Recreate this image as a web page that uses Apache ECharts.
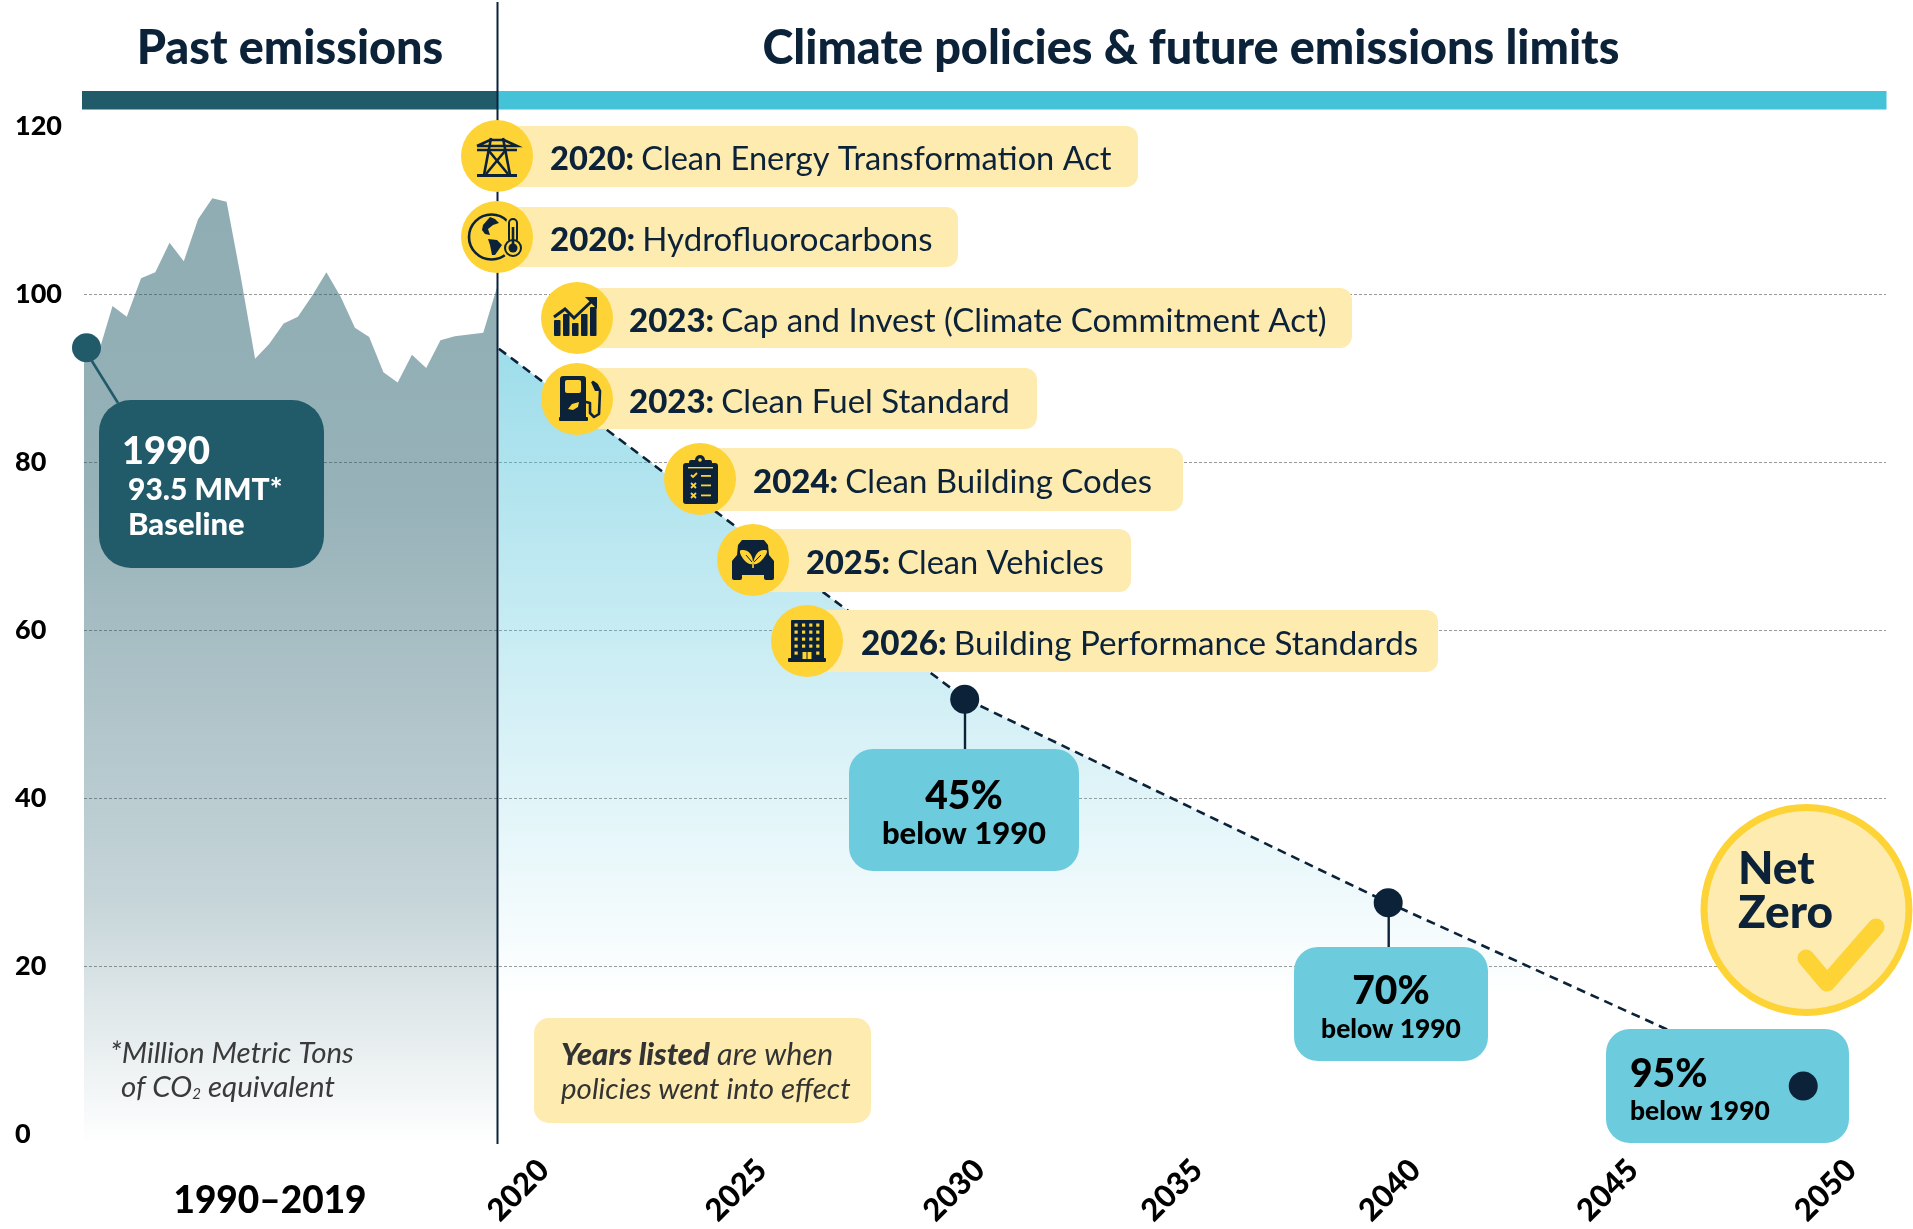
<!DOCTYPE html>
<html><head><meta charset="utf-8">
<style>html,body{margin:0;padding:0;background:#fff}#c{width:1913px;height:1229px}</style>
<script src="https://cdn.jsdelivr.net/npm/echarts@6/dist/echarts.min.js"></script>
</head><body><div id="c"></div>
<script>
// ---------- data ----------
const pastYears = ['1990','1991','1992','1993','1994','1995','1996','1997','1998','1999','2000','2001','2002','2003','2004','2005','2006','2007','2008','2009','2010','2011','2012','2013','2014','2015','2016','2017','2018','2019'];
const pastValues = [93.5,92.9,98.6,97.3,101.9,102.6,106.1,103.9,108.9,111.4,111.0,102.0,92.3,94.1,96.5,97.3,99.8,102.6,99.7,96.0,94.9,90.7,89.5,92.8,91.2,94.5,95.0,95.2,95.4,101.0];
const limitYears = [2019,2030,2040,2050];
const limitValues = [93.5,51.9,27.6,4.7];
const milestoneYears = [2030,2040,2049.8];
const milestoneValues = [51.8,27.6,5.8];
const gridYears = [2030,2040,2050];
const tickYears = [2020,2025,2030,2035,2040,2045,2050];
const policyYears = ['2020:','2020:','2023:','2023:','2024:','2025:','2026:'];
const policyNames = ['Clean Energy Transformation Act','Hydrofluorocarbons','Cap and Invest (Climate Commitment Act)','Clean Fuel Standard','Clean Building Codes','Clean Vehicles','Building Performance Standards'];

// ---------- palette ----------
const NAVY='#0b2239', TEAL='#215b69', CYAN='#44c2d8', BOX='#6ccbdc', YEL='#fdd335', CREAM='#fdebb0';
const FONT='Lato';

// ---------- graphic helpers ----------
let zc=10; const els=[];
const push=e=>{e.z=zc++;e.silent=true;els.push(e);return e;};
const rect=(x,y,w,h,r,fill)=>push({type:'rect',x,y,shape:{x:0,y:0,width:w,height:h,r:r||0},style:{fill}});
const circle=(x,y,r,fill,stroke,lw)=>push({type:'circle',x,y,shape:{cx:0,cy:0,r},style:{fill,stroke,lineWidth:lw||0}});
const line=(pts,color,lw,cap)=>push({type:'polyline',shape:{points:pts},style:{stroke:color,lineWidth:lw,fill:null,lineCap:cap||'butt',lineJoin:cap?'round':'miter'}});
const poly=(pts,fill,smooth)=>push({type:'polygon',shape:{points:pts,smooth:smooth||0},style:{fill}});
const text=(x,y,t,o)=>push({type:'text',x,y:y+1,style:Object.assign({text:t,fontFamily:FONT,fontSize:30,fontWeight:900,fill:NAVY,align:'left',verticalAlign:'middle'},o||{})});
const off=(cx,cy,pts)=>pts.map(p=>[p[0]+cx,p[1]+cy]);

// ---------- icons (offsets from circle centre) ----------
const icons=[
(x,y)=>{ // pylon
  const L=(p,w)=>line(off(x,y,p),NAVY,w||2.6);
  L([[-20,-10],[-7,-16],[7,-16],[20,-10],[-20,-10]]);
  L([[-20,-6],[20,-6]]);
  L([[-6,-18],[-13,19]]);L([[6,-18],[13,19]]);
  L([[-8,-5],[11,18]]);L([[8,-5],[-11,18]]);
  L([[-20,19.5],[20,19.5]],3);
},
(x,y)=>{ // globe + thermometer
  circle(x-5.5,y,22.5,null,NAVY,2.6);
  poly(off(x,y,[[-14,-12],[-7,-20],[-2,-18],[2,-14],[-4,-12],[-9,-8],[-7,-2],[-12,-3],[-15,-7]]),NAVY);
  poly(off(x,y,[[-9,2],[0,3],[5,8],[-2,18],[-5,18],[-7,8]]),NAVY);
  rect(x+9,y-21,15,30,7,YEL);circle(x+16,y+11,11,YEL);
  push({type:'rect',x:x+12,y:y-18,shape:{x:0,y:0,width:8,height:24,r:4},style:{fill:YEL,stroke:NAVY,lineWidth:2}});
  circle(x+16,y+11,8,YEL,NAVY,2);circle(x+16,y+11,4.5,NAVY);rect(x+14.7,y-10,2.6,20,0,NAVY);
},
(x,y)=>{ // rising bars
  [[-23,2],[-14,-4],[-5,5],[4,-4],[13,-11]].forEach(b=>rect(x+b[0],y+b[1],6.5,18-b[1],1,NAVY));
  line(off(x,y,[[-23,-1],[-12,-9],[-3,0],[15,-17]]),NAVY,3);
  poly(off(x,y,[[8,-21],[20,-21],[20,-9]]),NAVY);
},
(x,y)=>{ // fuel pump
  rect(x-17,y-23,26,44,3,NAVY);rect(x-18,y+18,29,4,1,NAVY);
  rect(x-12,y-19,16,13,2,YEL);
  poly(off(x,y,[[-9,10],[-5,5],[2,3],[1,8],[-4,11]]),YEL);
  line(off(x,y,[[9,3],[13,4],[13,14],[17,18],[22,15],[23,-8],[20,-14],[16,-17]]),NAVY,2.6,'round');
  poly(off(x,y,[[14,-17],[20,-16],[22,-8],[18,-8]]),NAVY);
},
(x,y)=>{ // clipboard
  rect(x-17,y-16,35,41,3,NAVY);
  rect(x-11,y-19,23,9,2,NAVY);circle(x,y-19,5,NAVY);circle(x,y-19,1.8,YEL);
  rect(x-12,y-12,25,1.4,0,YEL);
  line(off(x,y,[[-9,-4],[-7,-2],[-3,-6]]),YEL,1.8);rect(x+1,y-4,10,1.8,0,YEL);
  line(off(x,y,[[-9,4],[-4,9]]),YEL,1.8);line(off(x,y,[[-4,4],[-9,9]]),YEL,1.8);rect(x+1,y+5.5,10,1.8,0,YEL);
  line(off(x,y,[[-9,14],[-4,19]]),YEL,1.8);line(off(x,y,[[-4,14],[-9,19]]),YEL,1.8);rect(x+1,y+15.5,10,1.8,0,YEL);
},
(x,y)=>{ // car with leaf
  poly(off(x,y,[[-11,-20],[11,-20],[15,-15],[16,-5],[21,1],[21,15],[-21,15],[-21,1],[-16,-5],[-15,-15]]),NAVY);
  rect(x-21,y+10,10,10,2,NAVY);rect(x+11,y+10,10,10,2,NAVY);
  poly(off(x,y,[[-13,-9],[-6,-9],[-1,-3],[-1,4],[-8,1]]),YEL,.4);
  poly(off(x,y,[[14,-9],[7,-9],[2,-3],[1,4],[8,1]]),YEL,.4);
  line(off(x,y,[[-7,-5],[-1,2]]),NAVY,1);line(off(x,y,[[8,-5],[1,2]]),NAVY,1);
  rect(x-0.8,y+1,1.6,7,0,YEL);
},
(x,y)=>{ // office block
  rect(x-16,y-21,33,40,1,NAVY);rect(x-19,y+17,38,4,1,NAVY);
  [-16,-9,-2,5,12].forEach((wy,i)=>[-11,-3.5,3.7,10.7].forEach(wx=>{
    if(!(i===4&&(wx===-3.5||wx===3.7))) rect(x+wx-1.5,y+wy-1.5,3.2,3.2,0,YEL);
  }));
  rect(x-4.5,y+11,4,7,0,YEL);rect(x+0.5,y+11,4,7,0,YEL);
}];

// ---------- layout of decoration ----------
rect(82,91,415.5,18.5,0,TEAL);
rect(497.5,91,1389,18.5,0,CYAN);
line([[497.5,2],[497.5,1144]],NAVY,2);

text(290,48,'Past emissions',{fontSize:46.8,align:'center'});
text(1191,48,'Climate policies & future emissions limits',{fontSize:46.8,align:'center'});

// policy rows
const rows=[
 {cx:497,cy:156,t:126,b:187,r:1138,tx:550,fs:32.6},
 {cx:497,cy:237,t:207,b:267,r:958,tx:550,fs:33},
 {cx:577,cy:318,t:288,b:348,r:1352,tx:629,fs:33},
 {cx:577,cy:399,t:368,b:429,r:1037,tx:629,fs:33},
 {cx:700,cy:479,t:448,b:511,r:1183,tx:753,fs:33},
 {cx:753,cy:560,t:529,b:592,r:1131,tx:806,fs:32.6},
 {cx:807,cy:641,t:610,b:672,r:1438,tx:861,fs:33.2}];
rows.forEach((w,i)=>{
  rect(w.cx,w.t,w.r-w.cx,w.b-w.t,12,CREAM);
  circle(w.cx,w.cy,36,YEL);
  icons[i](w.cx,w.cy);
  text(w.tx,w.cy+2,'{b|'+policyYears[i]+'} {r|'+policyNames[i]+'}',{rich:{
    b:{fontFamily:FONT,fontSize:w.fs,fontWeight:900,fill:NAVY},
    r:{fontFamily:FONT,fontSize:w.fs,fontWeight:400,fill:NAVY}}});
});

// baseline call-out
line([[90,358],[118,403]],TEAL,2.6);
rect(99,400,225,168,32,TEAL);
text(122,451,'1990',{fontSize:38,fontWeight:900,fill:'#fff'});
text(128,489,'93.5 MMT*',{fontSize:30,fill:'#fff'});
text(128,524,'Baseline',{fontSize:31,fill:'#fff'});

// milestones
line([[965,699],[965,749]],NAVY,2.4);
line([[1388.7,903],[1388.7,947]],NAVY,2.4);
rect(849,749,230,122,24,BOX);
text(964,795,'45%',{fontSize:39,align:'center',fill:'#000'});
text(964,833,'below 1990',{fontSize:31,align:'center',fill:'#000'});
rect(1294,947,194,114,24,BOX);
text(1391,990,'70%',{fontSize:39,align:'center',fill:'#000'});
text(1391,1028,'below 1990',{fontSize:26.4,align:'center',fill:'#000'});
rect(1606,1029,243,114,24,BOX);
text(1630,1073,'95%',{fontSize:39,fill:'#000'});
text(1630,1110,'below 1990',{fontSize:26.4,fill:'#000'});

// net zero
circle(1806.5,910,102.5,CREAM,YEL,7);
text(1738,868,'Net',{fontSize:46});
text(1738,912,'Zero',{fontSize:46});
line([[1806,958],[1827,983],[1876,927]],YEL,17,'round');

// notes
text(110,1052,'*Million Metric Tons',{fontSize:29.5,fontWeight:400,fontStyle:'italic',fill:'#3a3a3a'});
text(121,1086,'{a|of CO}{s|2}{a| equivalent}',{rich:{
  a:{fontFamily:FONT,fontSize:29.5,fontStyle:'italic',fontWeight:400,fill:'#3a3a3a'},
  s:{fontFamily:FONT,fontSize:15,fontStyle:'italic',fontWeight:400,fill:'#3a3a3a',verticalAlign:'bottom',padding:[12,0,0,0]}}});
rect(534,1018,337,105,15,CREAM);
text(561,1054,'{b|Years listed} {a|are when}',{rich:{
  b:{fontFamily:FONT,fontSize:31,fontStyle:'italic',fontWeight:900,fill:'#333'},
  a:{fontFamily:FONT,fontSize:30.5,fontStyle:'italic',fontWeight:400,fill:'#333'}}});
text(561,1088,'policies went into effect',{fontSize:29.5,fontStyle:'italic',fontWeight:400,fill:'#333'});
text(270,1200,'1990–2019',{fontSize:37,align:'center',fill:'#000'});

// ---------- chart ----------
const Y0=1134.7, Y120=126;                       // plot rows
const pxPerYear=42.35, x2050=1811.7;             // future-scale calibration
const futMin=2050-(x2050-84)/pxPerYear, futMax=2050+(1886-x2050)/pxPerYear;
const common={top:Y120,height:Y0-Y120};
const chart=echarts.init(document.getElementById('c'),null,{renderer:'canvas'});
chart.setOption({
  animation:false,
  backgroundColor:'#fff',
  grid:[
    Object.assign({left:84,width:413.5},common),
    Object.assign({left:84,width:1802},common),
    Object.assign({left:326,width:1568.7},common)
  ],
  xAxis:[
    {gridIndex:0,type:'category',data:pastYears,boundaryGap:false,show:false},
    {gridIndex:1,type:'value',min:futMin,max:futMax,show:false,splitLine:{show:false}},
    {gridIndex:2,type:'value',min:2015,max:2051,interval:5,
     axisLine:{show:false},axisTick:{show:false},splitLine:{show:false},
     axisLabel:{show:true,rotate:45,margin:42,hideOverlap:false,showMinLabel:false,showMaxLabel:false,
       color:'#000',fontFamily:FONT,fontWeight:900,fontSize:31,
       formatter:v=>tickYears.includes(v)?String(v):''}}
  ],
  yAxis:[
    {gridIndex:0,type:'value',min:0,max:120,interval:20,show:false,splitLine:{show:false}},
    {gridIndex:1,type:'value',min:0,max:120,interval:20,
     axisLine:{show:false},axisTick:{show:false},
     axisLabel:{align:'left',margin:69,padding:[6,0,0,0],color:'#000',fontFamily:FONT,fontWeight:900,fontSize:27},
     splitLine:{show:true,showMinLine:false,showMaxLine:false,lineStyle:{color:'#9a9a9a',width:1,type:[3,2]}}},
    {gridIndex:2,type:'value',min:0,max:120,interval:20,show:false,splitLine:{show:false}}
  ],
  series:[
    {name:'Past emissions',type:'line',xAxisIndex:0,yAxisIndex:0,data:pastValues,symbol:'none',clip:false,
     lineStyle:{width:0},
     areaStyle:{origin:-1.1,opacity:1,color:new echarts.graphic.LinearGradient(0,0,0,1,[
       {offset:0,color:'rgba(33,91,105,.5)'},{offset:.32,color:'rgba(33,91,105,.47)'},
       {offset:.74,color:'rgba(33,91,105,.26)'},{offset:1,color:'rgba(33,91,105,0)'}])}},
    {name:'Emissions limits',type:'line',xAxisIndex:1,yAxisIndex:1,data:limitYears.map((y,i)=>[y,limitValues[i]]),symbol:'none',clip:false,
     lineStyle:{color:NAVY,width:2.6,type:[9,6]},
     areaStyle:{origin:-1.1,opacity:1,color:new echarts.graphic.LinearGradient(0,0,0,1,[
       {offset:0,color:'rgba(68,190,215,.52)'},{offset:.82,color:'rgba(68,190,215,0)'},{offset:1,color:'rgba(68,190,215,0)'}])},
     markLine:{silent:true,symbol:'none',label:{show:false},clip:false,animation:false,
       lineStyle:{color:'#444',width:1.2,type:[7,6]},
       data:gridYears.map(y=>[{coord:[y,122.2]},{coord:[y,-1.1]}])}},
    {name:'Baseline',type:'scatter',xAxisIndex:0,yAxisIndex:0,clip:false,z:1000,symbolSize:29,symbolOffset:[2.5,-1],itemStyle:{color:TEAL,opacity:1},
     data:[[pastYears[0],pastValues[0]]]},
    {name:'Milestones',type:'scatter',xAxisIndex:1,yAxisIndex:1,clip:false,z:1000,symbolSize:29,itemStyle:{color:NAVY,opacity:1},
     data:milestoneYears.map((y,i)=>[y,milestoneValues[i]])}
  ],
  graphic:{elements:els}
});
</script></body></html>
